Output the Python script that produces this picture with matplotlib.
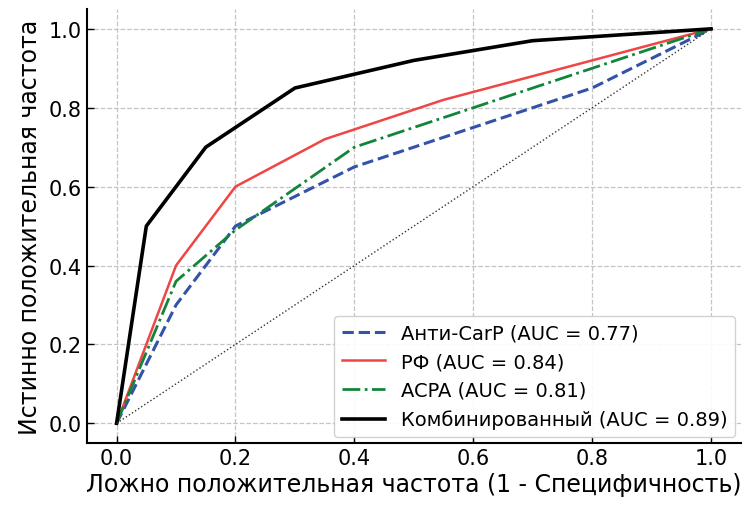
import matplotlib
matplotlib.use("Agg")
import matplotlib.pyplot as plt

fpr_carp = [0.0, 0.1, 0.2, 0.4, 0.8, 1.0]
tpr_carp = [0.0, 0.3, 0.5, 0.65, 0.85, 1.0]

fpr_rf = [0.0, 0.1, 0.2, 0.35, 0.55, 1.0]
tpr_rf = [0.0, 0.4, 0.6, 0.72, 0.82, 1.0]

fpr_acpa = [0.0, 0.1, 0.2, 0.4, 1.0]
tpr_acpa = [0.0, 0.36, 0.49, 0.7, 1.0]

fpr_comb = [0.0, 0.05, 0.15, 0.3, 0.5, 0.7, 1.0]
tpr_comb = [0.0, 0.5, 0.7, 0.85, 0.92, 0.97, 1.0]

labels = ["Анти-CarP (AUC = 0.77)", "РФ (AUC = 0.84)",
          "ACPA (AUC = 0.81)", "Комбинированный (AUC = 0.89)"]
ticks = [0.0, 0.2, 0.4, 0.6, 0.8, 1.0]

plt.rcParams['font.family'] = ['DejaVu Sans']
fig = plt.figure(figsize=(7.49, 5.06), dpi=100)
ax = fig.add_axes([0.116, 0.1225, 0.873, 0.8575])

ax.plot(fpr_carp, tpr_carp, linestyle='--', color='#3352a8', lw=2.2, label=labels[0])
ax.plot(fpr_rf, tpr_rf, linestyle='-', color='#f04545', lw=1.8, label=labels[1])
ax.plot(fpr_acpa, tpr_acpa, linestyle='-.', color='#12853a', lw=2.0, label=labels[2])
ax.plot(fpr_comb, tpr_comb, linestyle='-', color='black', lw=2.6, label=labels[3])
ax.plot([0, 1], [0, 1], linestyle=':', color='#333333', lw=1.0)

ax.set_xlim(-0.05, 1.05)
ax.set_ylim(-0.05, 1.05)
ax.set_xticks(ticks)
ax.set_yticks(ticks)
ax.tick_params(direction='in', labelsize=15, length=5, width=1.0)
ax.grid(True, linestyle='--', color='#c4c4c4', lw=0.9)
for s in ['top', 'right']:
    ax.spines[s].set_visible(False)
for s in ['left', 'bottom']:
    ax.spines[s].set_linewidth(1.5)

ax.set_xlabel('Ложно положительная частота (1 - Специфичность)', fontsize=17, labelpad=3)
ax.set_ylabel('Истинно положительная частота', fontsize=17, labelpad=5)

ax.legend(loc='lower right', fontsize=14, framealpha=0.9, edgecolor='#cccccc',
          handlelength=2.2, borderaxespad=0.3)

fig.savefig('out.png', dpi=100)
